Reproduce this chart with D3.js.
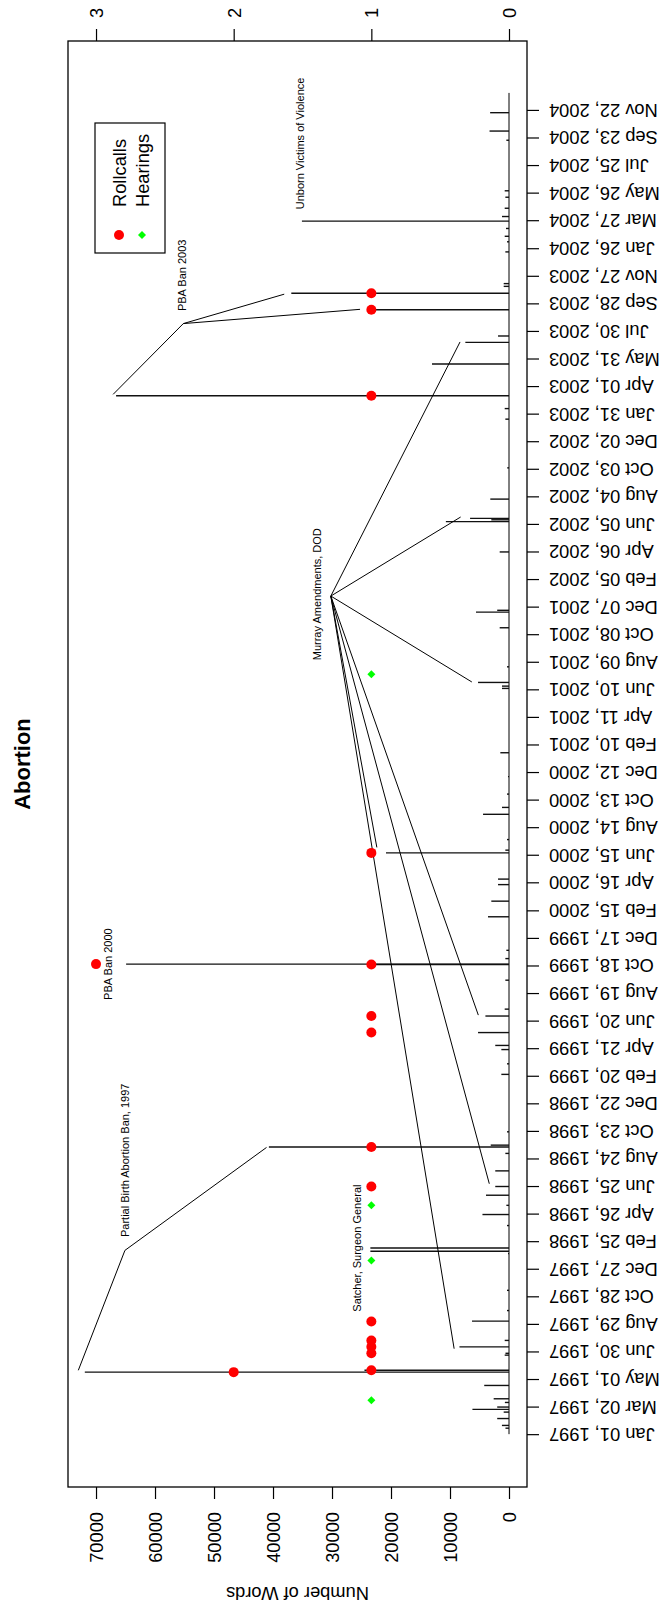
<!DOCTYPE html>
<html>
<head>
<meta charset="utf-8">
<script src="https://cdn.jsdelivr.net/npm/d3@7"></script>
<style>
  body { margin: 0; background: #fff; }
  svg { display: block; font-family: "Liberation Sans", Arial, Helvetica, sans-serif; }
</style>
</head>
<body>
<div id="root"></div>
<script>
// Date tick labels along the time axis.
const tickLabels = [
  'Jan 01, 1997', 'Mar 02, 1997', 'May 01, 1997', 'Jun 30, 1997', 'Aug 29, 1997', 'Oct 28, 1997', 'Dec 27, 1997',
  'Feb 25, 1998', 'Apr 26, 1998', 'Jun 25, 1998', 'Aug 24, 1998', 'Oct 23, 1998', 'Dec 22, 1998',
  'Feb 20, 1999', 'Apr 21, 1999', 'Jun 20, 1999', 'Aug 19, 1999', 'Oct 18, 1999', 'Dec 17, 1999',
  'Feb 15, 2000', 'Apr 16, 2000', 'Jun 15, 2000', 'Aug 14, 2000', 'Oct 13, 2000', 'Dec 12, 2000',
  'Feb 10, 2001', 'Apr 11, 2001', 'Jun 10, 2001', 'Aug 09, 2001', 'Oct 08, 2001', 'Dec 07, 2001',
  'Feb 05, 2002', 'Apr 06, 2002', 'Jun 05, 2002', 'Aug 04, 2002', 'Oct 03, 2002', 'Dec 02, 2002',
  'Jan 31, 2003', 'Apr 01, 2003', 'May 31, 2003', 'Jul 30, 2003', 'Sep 28, 2003', 'Nov 27, 2003',
  'Jan 26, 2004', 'Mar 27, 2004', 'May 26, 2004', 'Jul 25, 2004', 'Sep 23, 2004', 'Nov 22, 2004'
];
const wordTicks = [0, 10000, 20000, 30000, 40000, 50000, 60000, 70000];
const countTicks = [0, 1, 2, 3];

// Period covered by the daily series (drawn as the zero line).
const seriesRange = ['1997-01-01', '2004-12-29'];

// Number of words per day (spikes).
const spikeDates = [
  '1997-01-14', '1997-01-20', '1997-02-04', '1997-02-18', '1997-02-24', '1997-03-01', '1997-03-11', '1997-03-19',
  '1997-04-17', '1997-05-16', '1997-05-20', '1997-06-22', '1997-06-26', '1997-07-10', '1997-07-24', '1997-09-04',
  '1997-09-27', '1997-11-10',
  '1998-01-29', '1998-02-03', '1998-02-10', '1998-03-31', '1998-04-24', '1998-05-14', '1998-06-05', '1998-06-24',
  '1998-07-28', '1998-09-04', '1998-09-18', '1998-09-22', '1998-10-21',
  '1999-02-23', '1999-03-18', '1999-04-18', '1999-04-27', '1999-05-25', '1999-06-30', '1999-07-15', '1999-09-16',
  '1999-10-20', '1999-10-21', '1999-11-02', '1999-11-20',
  '2000-02-01', '2000-03-06', '2000-04-11', '2000-04-23', '2000-06-19', '2000-06-25', '2000-07-18', '2000-09-11',
  '2000-09-26', '2000-10-25', '2000-12-02',
  '2001-01-23', '2001-06-12', '2001-06-17', '2001-06-25', '2001-07-29', '2001-10-22', '2001-11-25', '2001-11-29',
  '2002-04-05', '2002-06-10', '2002-06-14', '2002-06-17', '2002-07-29', '2002-10-05',
  '2003-01-19', '2003-02-11', '2003-03-11', '2003-05-19', '2003-07-05', '2003-07-19', '2003-09-14', '2003-10-20',
  '2003-11-04', '2003-11-10',
  '2004-01-18', '2004-02-09', '2004-02-21', '2004-03-09', '2004-03-25', '2004-04-04', '2004-04-22', '2004-05-16',
  '2004-05-30', '2004-09-17', '2004-10-07', '2004-11-16'
];
const spikeWords = [
  600, 1200, 2000, 900, 6200, 2000, 700, 2600,
  4200, 71900, 24500, 730, 600, 8400, 730, 6270,
  340, 340,
  170, 23500, 23500, 340, 4500, 450, 3900, 2330,
  2330, 620, 40700, 3100, 340,
  1300, 340, 1300, 2330, 5250, 4000, 730, 620,
  23000, 64900, 620, 450,
  3560, 3000, 1860, 1860, 20850, 620, 340, 4400,
  1190, 340, 170,
  1470, 1190, 1190, 5250, 340, 1580, 5600, 2000,
  1580, 10700, 3000, 6600, 3170, 300,
  620, 730, 66600, 13050, 7400, 1860, 23000, 36900,
  900, 900,
  620, 340, 730, 510, 35100, 1190, 730, 620,
  730, 450, 3300, 3200
];

// Roll call votes per day.
const rollcallDates = [
  '1997-05-16', '1997-05-20', '1997-06-26', '1997-07-10', '1997-07-24', '1997-09-03', '1998-06-24', '1998-09-18',
  '1999-05-25', '1999-06-30', '1999-10-20', '1999-10-21', '2000-06-19', '2003-03-11', '2003-09-14', '2003-10-20'
];
const rollcallCounts = [2, 1, 1, 1, 1, 1, 1, 1, 1, 1, 1, 3, 1, 1, 1, 1];

// Hearings per day.
const hearingDates = ['1997-03-16', '1998-01-14', '1998-05-14', '2001-07-13'];
const hearingCounts = [1, 1, 1, 1];

// Annotations (text centre in data units).
const noteLabels = ['Partial Birth Abortion Ban, 1997', 'PBA Ban 2000', 'Satcher, Surgeon General',
  'Murray Amendments, DOD', 'PBA Ban 2003', 'Unborn Victims of Violence'];
const noteDates = ['1998-08-20', '1999-10-21', '1998-02-10', '2002-01-03', '2003-11-28', '2004-09-10'];
const noteWords = [65100, 68000, 25800, 32500, 55400, 35400];

// Leader lines: one hub per annotation, fanning out to the debates.
const hubDates = ['1998-02-05', '2001-12-30', '2003-08-15'];
const hubWords = [65100, 30200, 55200];
const targetDates = [
  ['1998-09-17', '1997-05-20'],
  ['2003-07-06', '2002-06-20', '2001-06-26', '2000-07-01', '1999-07-02', '1998-06-30', '1997-07-06'],
  ['2003-10-18', '2003-09-15', '2003-03-14']
];
const targetWords = [
  [41100, 73000],
  [8300, 8200, 6300, 22400, 5200, 3340, 9300],
  [38100, 25250, 67100]
];

const legendNames = ['Rollcalls', 'Hearings'];

// Page is the R plot turned a quarter turn: time runs bottom to top, words right to left.
const width = 665;
const height = 1608;
const plot = { left: 68, right: 527, top: 41, bottom: 1487 };
const parse = d3.utcParse('%Y-%m-%d');
const parseTick = d3.utcParse('%b %d, %Y');

const y = d3.scaleUtc()
  .domain([parse('1996-09-08'), parse('2005-04-21')])
  .range([plot.bottom, plot.top]);

const x = d3.scaleLinear()
  .domain([-3050, 74750])
  .range([plot.right, plot.left]);

// Counts share the frame: 3 counts line up with 70000 words.
const xc = d3.scaleLinear()
  .domain(x.domain().map(v => v * 3 / 70000))
  .range(x.range());

const svg = d3.select('#root')
  .append('svg')
  .attr('width', width)
  .attr('height', height);

const axisFont = 18.3;

// Time axis (right side), labels upside down.
svg.append('g')
  .attr('transform', `translate(${plot.right},0)`)
  .call(d3.axisRight(y)
    .tickValues(tickLabels.map(parseTick))
    .tickFormat((d, i) => tickLabels[i])
    .tickSize(12))
  .call(g => g.select('.domain').remove())
  .call(g => g.selectAll('line').attr('stroke', '#000').attr('stroke-width', 1.2))
  .call(g => g.selectAll('text')
    .attr('x', 0)
    .attr('dy', null)
    .attr('fill', '#000')
    .attr('text-anchor', 'end')
    .attr('dominant-baseline', 'central')
    .attr('transform', 'translate(22,0) rotate(180)'))
  .attr('font-size', axisFont)
  .attr('font-family', null);

// Words axis (bottom).
svg.append('g')
  .attr('transform', `translate(0,${plot.bottom})`)
  .call(d3.axisBottom(x).tickValues(wordTicks).tickFormat(d3.format('d')).tickSize(12))
  .call(g => g.select('.domain').remove())
  .call(g => g.selectAll('line').attr('stroke', '#000').attr('stroke-width', 1.2))
  .call(g => g.selectAll('text')
    .attr('y', 0)
    .attr('dy', null)
    .attr('fill', '#000')
    .attr('text-anchor', 'end')
    .attr('dominant-baseline', 'central')
    .attr('transform', 'translate(0,25) rotate(-90)'))
  .attr('font-size', axisFont)
  .attr('font-family', null);

// Count axis (top).
svg.append('g')
  .attr('transform', `translate(0,${plot.top})`)
  .call(d3.axisTop(xc).tickValues(countTicks).tickFormat(d3.format('d')).tickSize(12))
  .call(g => g.select('.domain').remove())
  .call(g => g.selectAll('line').attr('stroke', '#000').attr('stroke-width', 1.2))
  .call(g => g.selectAll('text')
    .attr('y', 0)
    .attr('dy', null)
    .attr('fill', '#000')
    .attr('text-anchor', 'middle')
    .attr('dominant-baseline', 'central')
    .attr('transform', 'translate(0,-28) rotate(-90)'))
  .attr('font-size', axisFont)
  .attr('font-family', null);

// Frame.
svg.append('rect')
  .attr('x', plot.left)
  .attr('y', plot.top)
  .attr('width', plot.right - plot.left)
  .attr('height', plot.bottom - plot.top)
  .attr('fill', 'none')
  .attr('stroke', '#000')
  .attr('stroke-width', 1.3);

// Zero line of the daily series.
svg.append('line')
  .attr('x1', x(0)).attr('x2', x(0))
  .attr('y1', y(parse(seriesRange[0])))
  .attr('y2', y(parse(seriesRange[1])))
  .attr('stroke', '#000')
  .attr('stroke-width', 1);

// Spikes.
const spikes = spikeDates.map((d, i) => ({ date: parse(d), words: spikeWords[i] }));
svg.append('g')
  .selectAll('line')
  .data(spikes)
  .enter()
  .append('line')
  .attr('x1', x(0))
  .attr('x2', d => x(d.words))
  .attr('y1', d => y(d.date))
  .attr('y2', d => y(d.date))
  .attr('stroke', '#111')
  .attr('stroke-width', 1.4);

// Leader lines.
hubDates.forEach((hd, k) => {
  const hx = x(hubWords[k]);
  const hy = y(parse(hd));
  svg.append('g')
    .selectAll('line')
    .data(targetDates[k].map((d, i) => ({ date: parse(d), words: targetWords[k][i] })))
    .enter()
    .append('line')
    .attr('x1', hx)
    .attr('y1', hy)
    .attr('x2', d => x(d.words))
    .attr('y2', d => y(d.date))
    .attr('stroke', '#000')
    .attr('stroke-width', 1);
});

// Annotation text.
svg.append('g')
  .selectAll('text')
  .data(noteLabels)
  .enter()
  .append('text')
  .attr('transform', (d, i) => `translate(${x(noteWords[i])},${y(parse(noteDates[i]))}) rotate(-90)`)
  .attr('text-anchor', 'middle')
  .attr('dominant-baseline', 'central')
  .attr('font-size', 11)
  .text(d => d);

// Roll calls.
svg.append('g')
  .selectAll('circle')
  .data(rollcallDates.map((d, i) => ({ date: parse(d), n: rollcallCounts[i] })))
  .enter()
  .append('circle')
  .attr('cx', d => xc(d.n))
  .attr('cy', d => y(d.date))
  .attr('r', 5)
  .attr('fill', '#ff0000');

// Hearings.
const diamond = d3.symbol(d3.symbolSquare, 32);
svg.append('g')
  .selectAll('path')
  .data(hearingDates.map((d, i) => ({ date: parse(d), n: hearingCounts[i] })))
  .enter()
  .append('path')
  .attr('d', diamond)
  .attr('transform', d => `translate(${xc(d.n)},${y(d.date)}) rotate(45)`)
  .attr('fill', '#00ff00');

// Legend.
const legend = svg.append('g').attr('id', 'legend');
legend.append('rect')
  .attr('x', 95).attr('y', 123)
  .attr('width', 70).attr('height', 130)
  .attr('fill', '#fff')
  .attr('stroke', '#000')
  .attr('stroke-width', 1.2);
legendNames.forEach((name, i) => {
  const cx = 119 + i * 23;
  if (i === 0) {
    legend.append('circle').attr('cx', cx).attr('cy', 235).attr('r', 5).attr('fill', '#ff0000');
  } else {
    legend.append('path').attr('d', diamond)
      .attr('transform', `translate(${cx},235) rotate(45)`)
      .attr('fill', '#00ff00');
  }
  legend.append('text')
    .attr('transform', `translate(${cx},207) rotate(-90)`)
    .attr('text-anchor', 'start')
    .attr('dominant-baseline', 'central')
    .attr('font-size', axisFont)
    .text(name);
});

// Title and axis name.
svg.append('text')
  .attr('transform', `translate(22,${(plot.top + plot.bottom) / 2}) rotate(-90)`)
  .attr('text-anchor', 'middle')
  .attr('dominant-baseline', 'central')
  .attr('font-size', 22)
  .attr('font-weight', 'bold')
  .text('Abortion');

svg.append('text')
  .attr('transform', `translate(${(plot.left + plot.right) / 2},1593) rotate(180)`)
  .attr('text-anchor', 'middle')
  .attr('dominant-baseline', 'central')
  .attr('font-size', axisFont)
  .text('Number of Words');
</script>
</body>
</html>
